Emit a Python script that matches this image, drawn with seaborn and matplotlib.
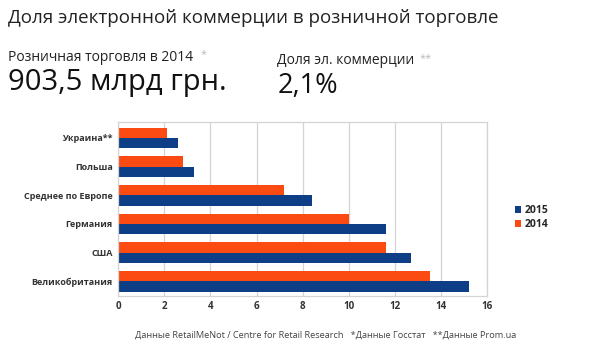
import numpy as np
import pandas as pd
import matplotlib
matplotlib.use("Agg")
import matplotlib.pyplot as plt
import seaborn as sns

# данные
countries = ['Украина**', 'Польша', 'Среднее по Европе', 'Германия', 'США', 'Великобритания']
share_2014 = [2.1, 2.8, 7.2, 10.0, 11.6, 13.5]
share_2015 = [2.6, 3.3, 8.4, 11.6, 12.7, 15.2]
years = ['2014', '2015']
xticks = [0, 2, 4, 6, 8, 10, 12, 14, 16]

df = pd.DataFrame({
    'Страна': countries * 2,
    'Год': ['2014'] * len(countries) + ['2015'] * len(countries),
    'Доля': share_2014 + share_2015,
})

sns.set_style("white")
plt.rcParams['font.family'] = ['Open Sans', 'DejaVu Sans']

fig = plt.figure(figsize=(6, 3.54), dpi=100)
ax = fig.add_axes([0.197, 0.165, 0.615, 0.49])

palette = {'2014': '#fb4a12', '2015': '#0e3f86'}
sns.barplot(data=df, y='Страна', x='Доля', hue='Год', hue_order=years,
            order=countries, palette=palette, width=0.72, ax=ax,
            saturation=1, edgecolor='none')

ax.set_xlim(0, 16)
ax.set_ylim(5.5, -0.55)
ax.set_xticks(xticks)
ax.set_xticklabels([str(t) for t in xticks], fontsize=7, fontweight='bold', color='#333333')
ax.set_yticklabels(countries, fontsize=6.5, fontweight='bold', color='#333333')
ax.set_xlabel('')
ax.set_ylabel('')
ax.tick_params(axis='both', length=0, pad=4)
ax.grid(axis='x', color='#d4d4d4', linewidth=0.9)
ax.set_axisbelow(True)
for s in ax.spines.values():
    s.set_color('#d4d4d4')
    s.set_linewidth(0.9)

handles, labels = ax.get_legend_handles_labels()
order = [labels.index('2015'), labels.index('2014')]
ax.legend([handles[i] for i in order], [labels[i] for i in order],
          loc='center left', bbox_to_anchor=(1.05, 0.45), frameon=False,
          handlelength=0.6, handleheight=0.6, handletextpad=0.3,
          labelspacing=0.3, prop={'weight': 'bold', 'size': 7.5})

fig.text(0.013, 0.948, 'Доля электронной коммерции в розничной торговле',
         fontsize=13.5, color='#222222', va='center')
fig.text(0.013, 0.838, 'Розничная торговля в 2014', fontsize=10, color='#222222', va='center')
fig.text(0.335, 0.845, '*', fontsize=8, color='#bbbbbb', va='center')
fig.text(0.013, 0.768, '903,5 млрд грн.', fontsize=21, color='#111111', va='center')
fig.text(0.462, 0.828, 'Доля эл. коммерции', fontsize=10, color='#222222', va='center')
fig.text(0.70, 0.835, '**', fontsize=8, color='#bbbbbb', va='center')
fig.text(0.462, 0.758, '2,1%', fontsize=19.5, color='#111111', va='center')

fig.text(0.225, 0.053, 'Данные RetailMeNot / Centre for Retail Research   *Данные Госстат   **Данные Prom.ua',
         fontsize=6.6, color='#444444', va='center')

fig.savefig('out.png', dpi=100, facecolor='white')
